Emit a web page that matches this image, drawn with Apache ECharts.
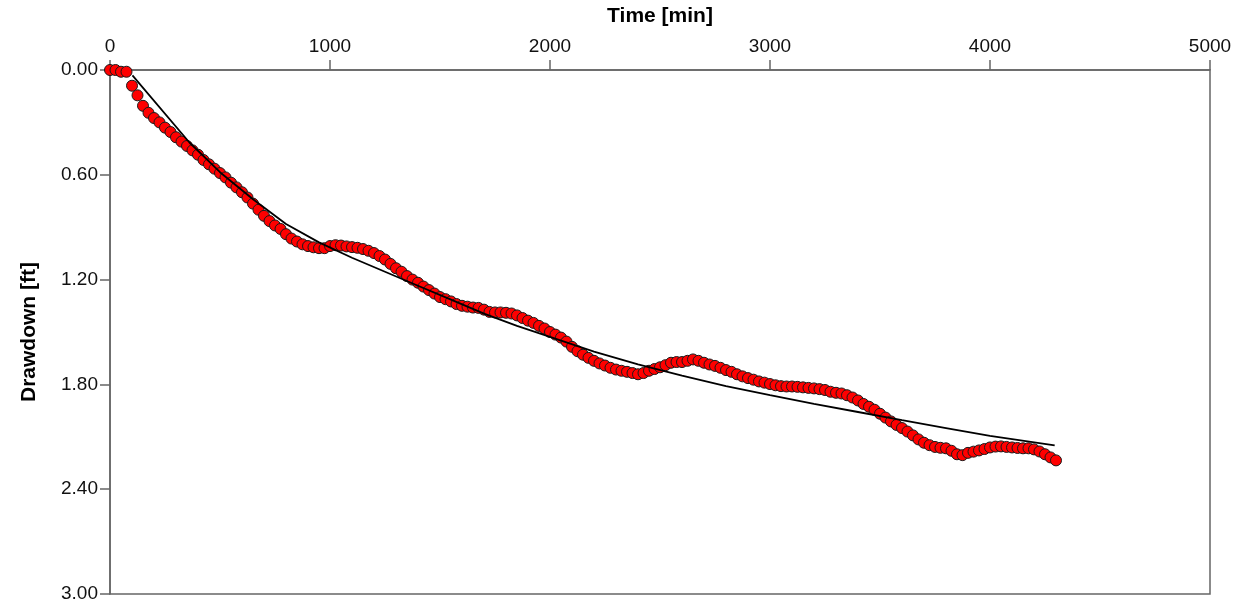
<!DOCTYPE html>
<html>
<head>
<meta charset="utf-8">
<script src="https://cdn.jsdelivr.net/npm/echarts@6/dist/echarts.min.js"></script>
<style>html,body{margin:0;padding:0;background:#fff}#c{width:1255px;height:602px}</style>
</head>
<body>
<div id="c"></div>
<script>
var xTicks = [0, 1000, 2000, 3000, 4000, 5000];
var yTicks = ['0.00', '0.60', '1.20', '1.80', '2.40', '3.00'];

var obsTime = [0,25,50,75,100,125,150,175,200,225,250,275,300,325,350,375,400,425,450,475,
500,525,550,575,600,625,650,675,700,725,750,775,800,825,850,875,900,925,950,975,
1000,1025,1050,1075,1100,1125,1150,1175,1200,1225,1250,1275,1300,1325,1350,1375,1400,1425,1450,1475,
1500,1525,1550,1575,1600,1625,1650,1675,1700,1725,1750,1775,1800,1825,1850,1875,1900,1925,1950,1975,
2000,2025,2050,2075,2100,2125,2150,2175,2200,2225,2250,2275,2300,2325,2350,2375,2400,2425,2450,2475,
2500,2525,2550,2575,2600,2625,2650,2675,2700,2725,2750,2775,2800,2825,2850,2875,2900,2925,2950,2975,
3000,3025,3050,3075,3100,3125,3150,3175,3200,3225,3250,3275,3300,3325,3350,3375,3400,3425,3450,3475,
3500,3525,3550,3575,3600,3625,3650,3675,3700,3725,3750,3775,3800,3825,3850,3875,3900,3925,3950,3975,
4000,4025,4050,4075,4100,4125,4150,4175,4200,4225,4250,4275,4300];

var obsDrawdown = [0.00,0.00,0.01,0.01,0.09,0.145,0.205,0.245,0.275,0.30,0.33,0.355,0.385,0.41,0.435,0.46,0.485,0.515,0.54,0.565,
0.59,0.615,0.645,0.672,0.70,0.73,0.765,0.80,0.835,0.865,0.89,0.91,0.94,0.965,0.982,0.998,1.008,1.015,1.02,1.02,
1.008,1.003,1.005,1.01,1.014,1.018,1.025,1.035,1.048,1.065,1.085,1.11,1.135,1.155,1.18,1.20,1.218,1.24,1.26,1.28,
1.30,1.312,1.325,1.34,1.35,1.355,1.36,1.362,1.372,1.385,1.388,1.388,1.39,1.394,1.405,1.42,1.435,1.448,1.465,1.48,
1.50,1.515,1.532,1.555,1.585,1.61,1.63,1.648,1.665,1.68,1.692,1.705,1.715,1.722,1.728,1.735,1.742,1.735,1.722,1.712,
1.702,1.69,1.676,1.672,1.672,1.665,1.657,1.665,1.676,1.686,1.694,1.705,1.718,1.728,1.742,1.754,1.764,1.773,1.783,1.79,
1.798,1.805,1.81,1.812,1.812,1.814,1.817,1.82,1.823,1.827,1.832,1.842,1.848,1.852,1.862,1.875,1.892,1.912,1.928,1.945,
1.968,1.99,2.012,2.032,2.05,2.07,2.092,2.115,2.134,2.148,2.158,2.163,2.166,2.18,2.20,2.205,2.192,2.185,2.178,2.17,
2.161,2.156,2.155,2.158,2.161,2.164,2.166,2.166,2.172,2.184,2.20,2.218,2.235];

var fitTime = [102, 361, 500, 650, 800, 950, 1100, 1250, 1400, 1550, 1700, 1850, 2000, 2200, 2400, 2600, 2800, 3000, 3200, 3400, 3600, 3800, 4000, 4294];
var fitDrawdown = [0.031, 0.415, 0.585, 0.74, 0.882, 0.987, 1.075, 1.155, 1.235, 1.315, 1.395, 1.465, 1.528, 1.612, 1.685, 1.75, 1.81, 1.862, 1.912, 1.958, 2.005, 2.05, 2.095, 2.149];

var obs = obsTime.map(function (t, i) { return [t, obsDrawdown[i]]; });
var fit = fitTime.map(function (t, i) { return [t, fitDrawdown[i]]; });

var chart = echarts.init(document.getElementById('c'), null, { renderer: 'canvas' });
var axisColor = '#666666';
var font = 'Liberation Sans, Arial, sans-serif';
chart.setOption({
  animation: false,
  backgroundColor: '#ffffff',
  grid: { left: 110, top: 70, right: 45, bottom: 8, outerBoundsMode: 'none', containLabel: false,
    show: true, borderColor: axisColor, borderWidth: 1.5, backgroundColor: 'transparent' },
  xAxis: {
    type: 'value', position: 'top', min: xTicks[0], max: xTicks[xTicks.length - 1], interval: 1000,
    name: 'Time [min]', nameLocation: 'middle', nameGap: 43,
    nameTextStyle: { fontFamily: font, fontSize: 21, fontWeight: 'bold', color: '#000' },
    axisLine: { show: true, lineStyle: { color: axisColor, width: 1.5 } },
    axisTick: { show: true, inside: false, length: 10, lineStyle: { color: axisColor, width: 1.5 } },
    axisLabel: { fontFamily: font, fontSize: 19, color: '#111', margin: 14,
      formatter: function (v) { return String(v); } },
    splitLine: { show: false }
  },
  yAxis: {
    type: 'value', inverse: true, min: 0, max: 3, interval: 0.6,
    name: 'Drawdown [ft]', nameLocation: 'middle', nameGap: 70, nameRotate: 90,
    nameTextStyle: { fontFamily: font, fontSize: 21, fontWeight: 'bold', color: '#000' },
    axisLine: { show: true, lineStyle: { color: axisColor, width: 1.5 } },
    axisTick: { show: true, inside: false, length: 10, lineStyle: { color: axisColor, width: 1.5 } },
    axisLabel: { fontFamily: font, fontSize: 19, color: '#111', margin: 12,
      formatter: function (v) { var s = v.toFixed(2); return yTicks.indexOf(s) >= 0 ? s : ''; } },
    splitLine: { show: false }
  },
  series: [
    {
      type: 'scatter', data: obs, symbol: 'circle', symbolSize: 11, z: 2,
      itemStyle: { color: '#ff0000', opacity: 1, borderColor: '#1a1a1a', borderWidth: 1 }
    },
    {
      type: 'line', data: fit, showSymbol: false, smooth: false, z: 3,
      lineStyle: { color: '#000', width: 1.8 }
    }
  ]
});
</script>
</body>
</html>
